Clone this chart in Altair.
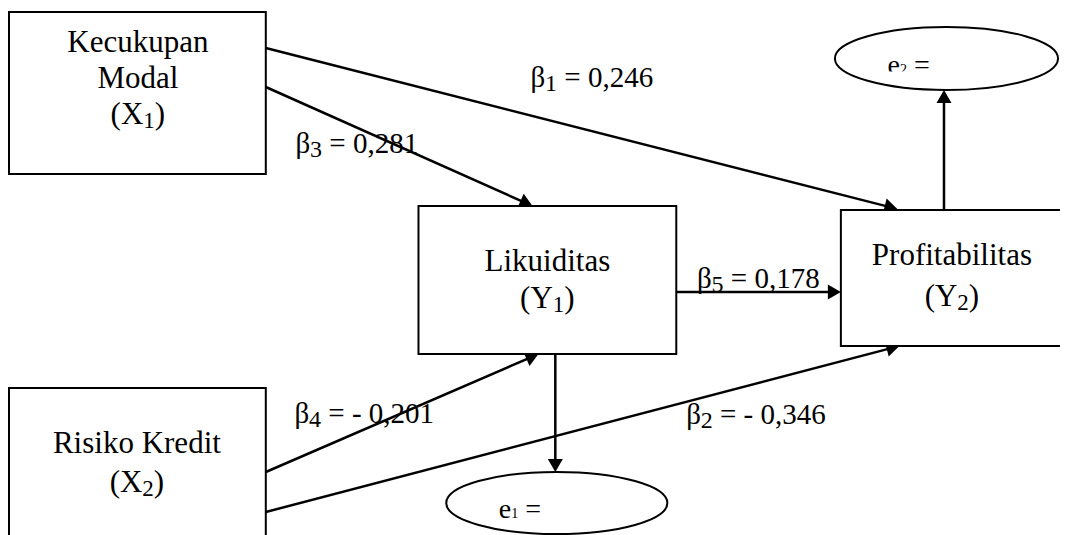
import math
import re
import altair as alt
import pandas as pd

# ---------------- data (reference pixel coordinates of the path diagram) ----------------
box_names = ["X1", "Y1", "Y2", "X2"]
box_left = [9, 422, 848, 9]
box_right = [268, 682, 1080, 268]
box_top = [12, 206, 210, 388]
box_bottom = [174, 354, 346, 560]

# node captions; "_{..}" marks a subscript
node_text = ["Kecukupan", "Modal", "(X_{1})", "Likuiditas", "(Y_{1})",
             "Profitabilitas", "(Y_{2})", "Risiko Kredit", "(X_{2})"]
node_text_x = [139, 139, 139, 552, 552, 960, 960, 138, 138]
node_text_y = [52, 88, 124, 271, 308, 265, 306, 453, 492]

err_names = ["e1", "e2"]
err_cx = [561.5, 954.5]
err_cy = [503, 58.5]
err_rx = [111.5, 112.5]
err_ry = [31, 31.5]
err_text = ["e_{1} =", "e_{2} ="]
err_text_x = [503, 895]
err_text_y = [518, 74]

edge_from = ["X1", "X1", "Y1", "X2", "X2", "Y1", "Y2"]
edge_to = ["Y2", "Y1", "Y2", "Y1", "Y2", "e1", "e2"]
edge_x0 = [268, 268, 682, 268, 268, 560, 952]
edge_y0 = [48, 87, 292, 472, 512, 354, 210]
edge_x1 = [905, 537, 848, 543, 907, 560, 952]
edge_y1 = [209, 206, 292, 354, 346, 472, 90]

coef_text = ["β_{1} = 0,246", "β_{3} = 0,281", "β_{5} = 0,178",
             "β_{4} = - 0,201", "β_{2} = - 0,346"]
coef_x = [535, 298, 703, 297, 692]
coef_y = [87, 153, 288, 423, 424]

# ---------------- scales ----------------
W, H = 1052, 527
XD = [8, 1069]
YD = [8, 535]
sx = W / (XD[1] - XD[0])
sy = H / (YD[1] - YD[0])
xscale = alt.Scale(domain=XD, nice=False, zero=False)
yscale = alt.Scale(domain=YD, nice=False, zero=False, reverse=True)


def to_px(x, y):
    return (x - XD[0]) * sx, (y - YD[0]) * sy


def to_data(px, py):
    return px / sx + XD[0], py / sy + YD[0]


# ---------------- arrows ----------------
HEAD_W = 15.0
HEAD_SIZE = HEAD_W ** 2
HEAD_H = HEAD_W * math.sqrt(3) / 4  # half height of the triangle symbol

rows_edge, rows_head = [], []
for f, t, x0, y0, x1, y1 in zip(edge_from, edge_to, edge_x0, edge_y0, edge_x1, edge_y1):
    p0 = to_px(x0, y0)
    p1 = to_px(x1, y1)
    dx, dy = p1[0] - p0[0], p1[1] - p0[1]
    L = math.hypot(dx, dy)
    ux, uy = dx / L, dy / L
    cx, cy = p1[0] - HEAD_H * ux, p1[1] - HEAD_H * uy
    ex, ey = to_data(cx, cy)
    rows_edge.append({"x": x0, "y": y0, "x2": ex, "y2": ey, "edge": f + "→" + t})
    ang = math.degrees(math.atan2(ux, -uy)) % 360
    rows_head.append({"x": ex, "y": ey, "angle": ang, "edge": f + "→" + t})

# ---------------- text with subscripts (Times / Liberation Serif advance widths) ----------------
ADV = {" ": 0.25, "(": 0.333, ")": 0.333, "X": 0.722, "Y": 0.722,
       "e": 0.444, "=": 0.564, ",": 0.25, "-": 0.333, "β": 0.5}
for d in "0123456789":
    ADV[d] = 0.5


def text_width(s, size):
    return sum(ADV.get(c, 0.5) for c in s) * size


def split_pieces(label, x, y, main, sub, drop, align, group):
    parts = re.split(r"_\{(.*?)\}", label)
    segs = [(p, i % 2 == 1) for i, p in enumerate(parts) if p]
    total = sum(text_width(s, sub if is_sub else main) for s, is_sub in segs)
    px, py = to_px(x, y)
    if align == "center":
        px -= total / 2
    out = []
    for s, is_sub in segs:
        size = sub if is_sub else main
        lead = len(s) - len(s.lstrip(" "))
        dxp, dyp = to_data(px + lead * ADV[" "] * size, py + (drop if is_sub else 0))
        out.append({"text": s.strip(" "), "x": dxp, "y": dyp,
                    "size": size, "group": group})
        px += text_width(s, size)
    return out


piece_rows = []
plain_rows = []
for t, x, y in zip(node_text, node_text_x, node_text_y):
    if "_{" in t:
        piece_rows += split_pieces(t, x, y, 31, 23, 4, "center", "node")
    else:
        plain_rows.append({"text": t, "x": x, "y": y})
for t, x, y in zip(coef_text, coef_x, coef_y):
    piece_rows += split_pieces(t, x, y, 29, 24, 4, "left", "coef")
for t, x, y in zip(err_text, err_text_x, err_text_y):
    piece_rows += split_pieces(t, x, y, 28, 14, 0, "left", "error")

df_box = pd.DataFrame({"name": box_names, "x": box_left, "x2": box_right,
                       "y": box_top, "y2": box_bottom})
df_plain = pd.DataFrame(plain_rows)
df_pieces = pd.DataFrame(piece_rows)
df_edge = pd.DataFrame(rows_edge)
df_head = pd.DataFrame(rows_head)

ell_rows = []
for n, cx, cy, rx, ry in zip(err_names, err_cx, err_cy, err_rx, err_ry):
    ratio = (ry * sy) / (rx * sx)
    path = f"M-1,0A1,{ratio:.4f},0,1,1,1,0A1,{ratio:.4f},0,1,1,-1,0Z"
    ell_rows.append({"name": n, "x": cx, "y": cy, "shape": path,
                     "size": (2 * rx * sx) ** 2})
df_ell = pd.DataFrame(ell_rows)

# the e2 text box in the original is cut off at its lower part
df_cover = pd.DataFrame({"x": [890], "x2": [948], "y": [71.5], "y2": [82]})


def X(f="x"):
    return alt.X(f + ":Q", scale=xscale, axis=None)


def Y(f="y"):
    return alt.Y(f + ":Q", scale=yscale, axis=None)


edges = alt.Chart(df_edge).mark_rule(color="black", strokeWidth=2.5, clip=True).encode(
    x=X(), y=Y(), x2="x2:Q", y2="y2:Q")

heads = alt.Chart(df_head).mark_point(
    shape="triangle-up", filled=True, color="black", opacity=1, size=HEAD_SIZE,
    strokeWidth=0).encode(x=X(), y=Y(), angle=alt.Angle("angle:Q", scale=None))

boxes = alt.Chart(df_box).mark_rect(fill="white", stroke="black", strokeWidth=2,
                                    clip=True).encode(
    x=X(), x2="x2:Q", y=Y(), y2="y2:Q")

ellipses = alt.Chart(df_ell).mark_point(filled=False, stroke="black", fill="white",
                                        fillOpacity=1, strokeWidth=2, opacity=1,
                                        clip=True).encode(
    x=X(), y=Y(), shape=alt.Shape("shape:N", scale=None),
    size=alt.Size("size:Q", scale=None))

plain_labels = alt.Chart(df_plain).mark_text(
    font="Liberation Serif", fontSize=31, align="center", baseline="alphabetic",
    color="black").encode(x=X(), y=Y(), text="text:N")

piece_labels = alt.Chart(df_pieces).mark_text(
    font="Liberation Serif", align="left", baseline="alphabetic",
    color="black").encode(x=X(), y=Y(), text="text:N",
                          size=alt.Size("size:Q", scale=None))

cover = alt.Chart(df_cover).mark_rect(fill="white", strokeWidth=0).encode(
    x=X(), x2="x2:Q", y=Y(), y2="y2:Q")

chart = alt.layer(edges, heads, boxes, ellipses, plain_labels, piece_labels,
                  cover).properties(
    width=W, height=H, padding=0, autosize=alt.AutoSizeParams(type="none"),
    background="white"
).configure_view(strokeWidth=0)

chart.save("out.html", embed_options={"renderer": "svg", "actions": False})
